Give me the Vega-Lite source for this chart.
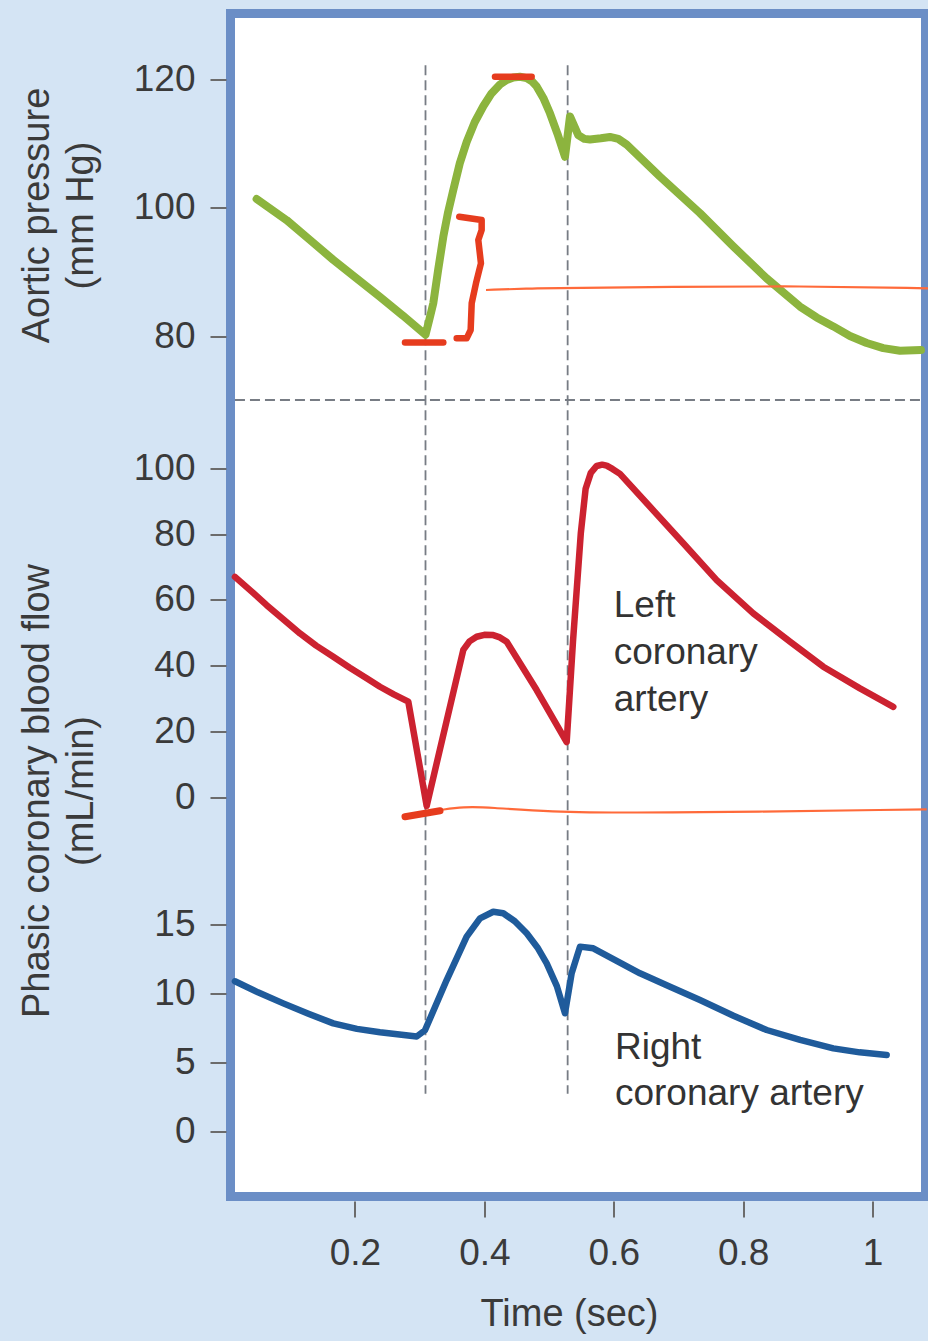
{
  "$schema": "https://vega.github.io/schema/vega-lite/v6.json",
  "width": 695,
  "height": 1183,
  "autosize": "none",
  "padding": {"left": 230.5, "top": 13.5, "right": 2.5, "bottom": 144.5},
  "background": "#d4e4f4",
  "config": {
    "font": "Liberation Sans",
    "view": {"fill": "white", "stroke": "#6b8ec6", "strokeWidth": 9},
    "axis": {
      "labelFont": "Liberation Sans",
      "titleFont": "Liberation Sans",
      "labelColor": "#3a3a3a",
      "titleColor": "#3a3a3a",
      "tickColor": "#6b6b6b",
      "tickWidth": 2,
      "domain": false,
      "grid": false,
      "labelFontSize": 37,
      "titleFontSize": 38,
      "titleFontWeight": "normal"
    }
  },
  "datasets": {
    "aortic": [
      {"t": 0.048, "v": 101.4}, {"t": 0.0944, "v": 98.1}, {"t": 0.1305, "v": 95.0}, {"t": 0.1665, "v": 91.9},
      {"t": 0.2025, "v": 89.0}, {"t": 0.2386, "v": 86.1}, {"t": 0.274, "v": 83.2}, {"t": 0.309, "v": 80.2},
      {"t": 0.315, "v": 82.6}, {"t": 0.321, "v": 85.1}, {"t": 0.3285, "v": 90.3}, {"t": 0.3365, "v": 95.5},
      {"t": 0.344, "v": 99.4}, {"t": 0.3519, "v": 102.8}, {"t": 0.362, "v": 107.0}, {"t": 0.3726, "v": 110.3},
      {"t": 0.385, "v": 113.4}, {"t": 0.3983, "v": 115.9}, {"t": 0.411, "v": 117.9}, {"t": 0.4241, "v": 119.3},
      {"t": 0.4345, "v": 120.0}, {"t": 0.4447, "v": 120.4}, {"t": 0.455, "v": 120.5}, {"t": 0.4654, "v": 120.3},
      {"t": 0.4735, "v": 119.8}, {"t": 0.4808, "v": 119.0}, {"t": 0.4911, "v": 117.2}, {"t": 0.5014, "v": 114.8},
      {"t": 0.513, "v": 111.6}, {"t": 0.5246, "v": 108.0}, {"t": 0.5323, "v": 114.3}, {"t": 0.5451, "v": 111.4},
      {"t": 0.5545, "v": 110.8}, {"t": 0.5632, "v": 110.7}, {"t": 0.58, "v": 110.9}, {"t": 0.5941, "v": 111.1},
      {"t": 0.607, "v": 110.8}, {"t": 0.62, "v": 109.9}, {"t": 0.6714, "v": 104.9}, {"t": 0.7332, "v": 99.2},
      {"t": 0.7847, "v": 94.0}, {"t": 0.8363, "v": 89.0}, {"t": 0.8878, "v": 84.6}, {"t": 0.9135, "v": 82.9},
      {"t": 0.9393, "v": 81.5}, {"t": 0.965, "v": 80.0}, {"t": 0.9909, "v": 78.9}, {"t": 1.0165, "v": 78.1},
      {"t": 1.0423, "v": 77.7}, {"t": 1.0748, "v": 77.8}
    ],
    "left": [
      {"t": 0.0145, "v": 67.0}, {"t": 0.04, "v": 62.6}, {"t": 0.0635, "v": 58.4}, {"t": 0.09, "v": 54.0},
      {"t": 0.115, "v": 49.8}, {"t": 0.14, "v": 46.1}, {"t": 0.1665, "v": 42.7}, {"t": 0.192, "v": 39.4},
      {"t": 0.218, "v": 36.2}, {"t": 0.2386, "v": 33.6}, {"t": 0.26, "v": 31.3}, {"t": 0.2824, "v": 29.1},
      {"t": 0.3108, "v": -2.6}, {"t": 0.3674, "v": 44.8}, {"t": 0.377, "v": 47.4}, {"t": 0.388, "v": 48.8},
      {"t": 0.4, "v": 49.4}, {"t": 0.4137, "v": 49.3}, {"t": 0.424, "v": 48.6}, {"t": 0.4345, "v": 47.3},
      {"t": 0.4808, "v": 32.6}, {"t": 0.5272, "v": 16.8}, {"t": 0.537, "v": 47.5}, {"t": 0.549, "v": 80.2},
      {"t": 0.5565, "v": 93.8}, {"t": 0.5645, "v": 98.6}, {"t": 0.5736, "v": 100.7}, {"t": 0.582, "v": 101.1},
      {"t": 0.589, "v": 100.8}, {"t": 0.598, "v": 99.8}, {"t": 0.6096, "v": 98.3}, {"t": 0.656, "v": 88.3},
      {"t": 0.7074, "v": 77.2}, {"t": 0.759, "v": 66.0}, {"t": 0.8156, "v": 55.9}, {"t": 0.8723, "v": 47.3},
      {"t": 0.9238, "v": 39.7}, {"t": 0.9805, "v": 33.1}, {"t": 1.032, "v": 27.5}
    ],
    "right": [
      {"t": 0.0145, "v": 10.85}, {"t": 0.05, "v": 10.05}, {"t": 0.0892, "v": 9.25}, {"t": 0.128, "v": 8.5},
      {"t": 0.1665, "v": 7.8}, {"t": 0.203, "v": 7.4}, {"t": 0.2386, "v": 7.15}, {"t": 0.2954, "v": 6.85},
      {"t": 0.3082, "v": 7.3}, {"t": 0.3417, "v": 10.94}, {"t": 0.3726, "v": 14.08}, {"t": 0.3932, "v": 15.41},
      {"t": 0.4137, "v": 15.89}, {"t": 0.4292, "v": 15.78}, {"t": 0.447, "v": 15.2}, {"t": 0.4654, "v": 14.33},
      {"t": 0.482, "v": 13.3}, {"t": 0.4963, "v": 12.15}, {"t": 0.512, "v": 10.5}, {"t": 0.5246, "v": 8.53},
      {"t": 0.5349, "v": 11.43}, {"t": 0.5478, "v": 13.36}, {"t": 0.5683, "v": 13.24}, {"t": 0.6405, "v": 11.43},
      {"t": 0.687, "v": 10.45}, {"t": 0.7332, "v": 9.49}, {"t": 0.785, "v": 8.35}, {"t": 0.8363, "v": 7.32},
      {"t": 0.888, "v": 6.6}, {"t": 0.9393, "v": 5.99}, {"t": 0.98, "v": 5.7}, {"t": 1.0218, "v": 5.51}
    ],
    "vdash": [{"t": 0.309, "v": 122.3, "v2": -38.4}, {"t": 0.5287, "v": 122.3, "v2": -38.4}],
    "hdash": [{"t": 0.0145, "t2": 1.0748, "v": 70}],
    "annoThickA": [
      {"g": "top", "i": 0, "t": 0.4164, "v": 120.5}, {"g": "top", "i": 1, "t": 0.4731, "v": 120.5},
      {"g": "bottom", "i": 0, "t": 0.2773, "v": 79.0}, {"g": "bottom", "i": 1, "t": 0.3365, "v": 79.0},
      {"g": "bracket", "i": 0, "t": 0.3612, "v": 98.64}, {"g": "bracket", "i": 1, "t": 0.3958, "v": 98.13},
      {"g": "bracket", "i": 2, "t": 0.3958, "v": 96.56}, {"g": "bracket", "i": 3, "t": 0.3906, "v": 95.0},
      {"g": "bracket", "i": 4, "t": 0.3947, "v": 91.36}, {"g": "bracket", "i": 5, "t": 0.387, "v": 88.23},
      {"g": "bracket", "i": 6, "t": 0.3804, "v": 85.11}, {"g": "bracket", "i": 7, "t": 0.3788, "v": 80.94},
      {"g": "bracket", "i": 8, "t": 0.3726, "v": 79.64}, {"g": "bracket", "i": 9, "t": 0.3572, "v": 79.64}
    ],
    "annoThinA": [
      {"i": 0, "t": 0.4025, "v": 87.19}, {"i": 1, "t": 0.4756, "v": 87.45}, {"i": 2, "t": 0.5374, "v": 87.5},
      {"i": 3, "t": 0.6818, "v": 87.7}, {"i": 4, "t": 0.8878, "v": 87.81}, {"i": 5, "t": 1.0857, "v": 87.45}
    ],
    "annoThickL": [{"i": 0, "t": 0.2773, "v": -5.9}, {"i": 1, "t": 0.3314, "v": -4.07}],
    "annoThinL": [
      {"i": 0, "t": 0.3314, "v": -3.86}, {"i": 1, "t": 0.3674, "v": -2.86}, {"i": 2, "t": 0.4087, "v": -3.04},
      {"i": 3, "t": 0.4963, "v": -4.38}, {"i": 4, "t": 0.6405, "v": -4.86}, {"i": 5, "t": 1.0836, "v": -3.65}
    ],
    "textL": [{"t": 0.6, "v": 54.9, "label": "Left\ncoronary\nartery"}],
    "textR": [{"t": 0.6018, "v": 5.2, "label": "Right\ncoronary artery"}]
  },
  "encoding": {
    "x": {
      "field": "t",
      "type": "quantitative",
      "scale": {"domain": [0.0076, 1.0818], "nice": false, "zero": false},
      "axis": {
        "values": [0.2, 0.4, 0.6, 0.8, 1],
        "format": "~g",
        "offset": 4.5,
        "tickSize": 16,
        "labelPadding": 18,
        "labelFlush": false,
        "title": "Time (sec)",
        "titleX": 338.5,
        "titleY": 124,
        "titleAlign": "center",
        "titleBaseline": "alphabetic"
      }
    }
  },
  "layer": [
    {
      "encoding": {
        "y": {
          "field": "v",
          "type": "quantitative",
          "scale": {"domain": [-54.45, 130.39], "nice": false, "zero": false},
          "axis": {
            "orient": "left",
            "values": [80, 100, 120],
            "offset": 4.5,
            "tickSize": 16,
            "labelPadding": 15,
            "title": ["Aortic pressure", "(mm Hg)"],
            "titleX": -178,
            "titleY": 201.5,
            "titleAngle": 270,
            "titleAlign": "center",
            "titleBaseline": "alphabetic",
            "titleLineHeight": 44
          }
        }
      },
      "layer": [
        {
          "data": {"name": "hdash"},
          "mark": {"type": "rule", "color": "#777c84", "strokeWidth": 1.8, "strokeDash": [10, 5]},
          "encoding": {"x2": {"field": "t2"}}
        },
        {
          "data": {"name": "vdash"},
          "mark": {"type": "rule", "color": "#777c84", "strokeWidth": 1.8, "strokeDash": [10, 5]},
          "encoding": {"y2": {"field": "v2"}}
        },
        {
          "data": {"name": "aortic"},
          "mark": {"type": "line", "color": "#8cb43e", "strokeWidth": 8, "strokeCap": "round", "strokeJoin": "round", "clip": true},
          "encoding": {}
        },
        {
          "data": {"name": "annoThickA"},
          "mark": {"type": "line", "color": "#e63c1e", "strokeWidth": 6.5, "strokeCap": "round", "strokeJoin": "round"},
          "encoding": {"detail": {"field": "g"}, "order": {"field": "i"}}
        },
        {
          "data": {"name": "annoThinA"},
          "mark": {"type": "line", "color": "#ff6a3a", "strokeWidth": 2.2, "interpolate": "basis"},
          "encoding": {"order": {"field": "i"}}
        }
      ]
    },
    {
      "encoding": {
        "y": {
          "field": "v",
          "type": "quantitative",
          "scale": {"domain": [-121.3, 238.2], "nice": false, "zero": false},
          "axis": {
            "orient": "left",
            "values": [0, 20, 40, 60, 80, 100],
            "offset": 4.5,
            "tickSize": 16,
            "labelPadding": 15,
            "title": ["Phasic coronary blood flow", "(mL/min)"],
            "titleX": -178,
            "titleY": 777,
            "titleAngle": 270,
            "titleAlign": "center",
            "titleBaseline": "alphabetic",
            "titleLineHeight": 44
          }
        }
      },
      "layer": [
        {
          "data": {"name": "left"},
          "mark": {"type": "line", "color": "#cc2230", "strokeWidth": 6.5, "strokeCap": "round", "strokeJoin": "round", "clip": true},
          "encoding": {}
        },
        {
          "data": {"name": "annoThinL"},
          "mark": {"type": "line", "color": "#ff6a3a", "strokeWidth": 2.2, "interpolate": "basis"},
          "encoding": {"order": {"field": "i"}}
        },
        {
          "data": {"name": "annoThickL"},
          "mark": {"type": "line", "color": "#e63c1e", "strokeWidth": 7, "strokeCap": "round"},
          "encoding": {"order": {"field": "i"}}
        },
        {
          "data": {"name": "textL"},
          "mark": {"type": "text", "align": "left", "baseline": "alphabetic", "fontSize": 37, "color": "#333333", "lineBreak": "\n", "lineHeight": 47},
          "encoding": {"text": {"field": "label"}}
        }
      ]
    },
    {
      "encoding": {
        "y": {
          "field": "v",
          "type": "quantitative",
          "scale": {"domain": [-4.746, 80.98], "nice": false, "zero": false},
          "axis": {
            "orient": "left",
            "values": [0, 5, 10, 15],
            "offset": 4.5,
            "tickSize": 16,
            "labelPadding": 15,
            "title": null
          }
        }
      },
      "layer": [
        {
          "data": {"name": "right"},
          "mark": {"type": "line", "color": "#1f5b9b", "strokeWidth": 6.5, "strokeCap": "round", "strokeJoin": "round", "clip": true},
          "encoding": {}
        },
        {
          "data": {"name": "textR"},
          "mark": {"type": "text", "align": "left", "baseline": "alphabetic", "fontSize": 37, "color": "#333333", "lineBreak": "\n", "lineHeight": 46},
          "encoding": {"text": {"field": "label"}}
        }
      ]
    }
  ],
  "resolve": {"scale": {"y": "independent"}, "axis": {"y": "independent"}}
}
